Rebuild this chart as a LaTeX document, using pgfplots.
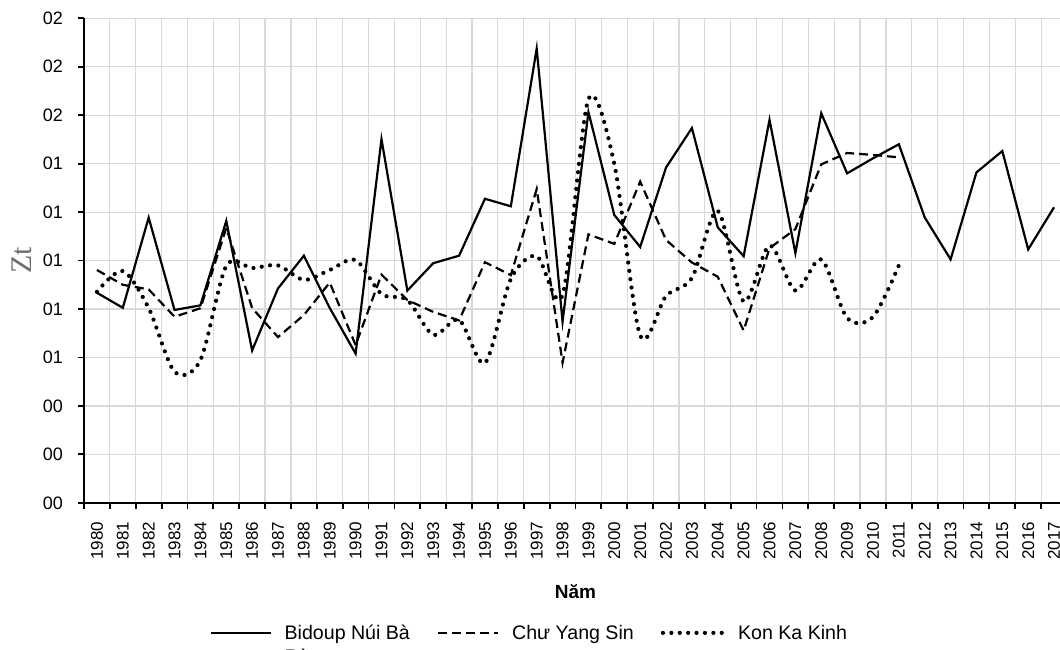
\documentclass[border=0pt]{standalone}
\usepackage{pgfplots}
\usepackage{pgfplotstable}
\pgfplotsset{compat=1.18}
\usepackage{fontspec}
\setmainfont{Liberation Sans}
\newfontfamily\seriffont{Liberation Serif}
\definecolor{gridgray}{RGB}{217,217,217}
\definecolor{labgray}{RGB}{110,110,110}

\pgfplotstableread{
year val
1980 0.0867
1981 0.0805
1982 0.1177
1983 0.0796
1984 0.0815
1985 0.1164
1986 0.0629
1987 0.0885
1988 0.1020
1989 0.0804
1990 0.0616
1991 0.1501
1992 0.0876
1993 0.0989
1994 0.1020
1995 0.1255
1996 0.1224
1997 0.1875
1998 0.0748
1999 0.1613
2000 0.1188
2001 0.1056
2002 0.1384
2003 0.1547
2004 0.1137
2005 0.1018
2006 0.1581
2007 0.1031
2008 0.1608
2009 0.1360
2010 0.1422
2011 0.1480
2012 0.1178
2013 0.1005
2014 0.1364
2015 0.1452
2016 0.1046
2017 0.1220
}\bidoup

\pgfplotstableread{
year val
1980 0.0961
1981 0.0900
1982 0.0881
1983 0.0768
1984 0.0803
1985 0.1134
1986 0.0804
1987 0.0684
1988 0.0775
1989 0.0909
1990 0.0651
1991 0.0942
1992 0.0837
1993 0.0788
1994 0.0753
1995 0.0993
1996 0.0940
1997 0.1295
1998 0.0578
1999 0.1108
2000 0.1069
2001 0.1326
2002 0.1085
2003 0.0992
2004 0.0933
2005 0.0711
2006 0.1051
2007 0.1130
2008 0.1397
2009 0.1444
2010 0.1436
2011 0.1426
}\chuyang

\pgfplotstableread{
year val
1980 0.0871
1981 0.0957
1982 0.0804
1983 0.0541
1984 0.0589
1985 0.0978
1986 0.0969
1987 0.0980
1988 0.0920
1989 0.0961
1990 0.1002
1991 0.0862
1992 0.0837
1993 0.0693
1994 0.0755
1995 0.0577
1996 0.0924
1997 0.1019
1998 0.0858
1999 0.1666
2000 0.1399
2001 0.0691
2002 0.0854
2003 0.0928
2004 0.1205
2005 0.0831
2006 0.1062
2007 0.0876
2008 0.1005
2009 0.0763
2010 0.0767
2011 0.0980
}\konka

\begin{document}
\begin{tikzpicture}
\path[use as bounding box, clip] (0,0) rectangle (530pt,324.5pt);
\begin{axis}[
  at={(42pt,73.1pt)}, anchor=south west,
  scale only axis, width=491.5pt, height=242.25pt,
  xmin=1979.5, xmax=2017.5, ymin=0, ymax=0.2,
  axis x line*=bottom, axis y line*=left,
  axis line style={black, line width=0.9pt},
  /pgf/number format/assume math mode=true,
  xtick={1979.5,1980.5,...,2017.5},
  x tick label as interval,
  xticklabels={1980,1981,1982,1983,1984,1985,1986,1987,1988,1989,1990,1991,1992,1993,1994,1995,1996,1997,1998,1999,2000,2001,2002,2003,2004,2005,2006,2007,2008,2009,2010,2011,2012,2013,2014,2015,2016,2017},
  xticklabel style={rotate=90, anchor=east, font=\fontsize{8.5}{10}\selectfont},
  xticklabel shift=3pt,
  ytick={0,0.02,0.04,0.06,0.08,0.1,0.12,0.14,0.16,0.18,0.2},
  yticklabels={00,00,00,01,01,01,01,01,02,02,02},
  yticklabel style={font=\fontsize{9}{10.5}\selectfont},
  yticklabel shift=4pt,
  tick align=outside, major tick length=3pt,
  tick style={black, line width=0.9pt},
  xmajorgrids, ymajorgrids,
  grid style={gridgray, line width=0.6pt},
  ylabel={\seriffont Zt},
  ylabel style={at={(axis description cs:-0.0636,0.5)}, anchor=center, font=\fontsize{15}{18}\selectfont, text=labgray},
  xlabel={Năm},
  xlabel style={at={(axis description cs:0.5,-0.184)}, anchor=center, font=\bfseries\fontsize{9.5}{11}\selectfont},
  legend columns=3,
  legend cell align=left,
  legend image code/.code={\draw[#1] (0pt,0pt) -- (30pt,0pt);},
  legend style={at={(axis description cs:0.1272,-0.2685)}, anchor=west, draw=none, fill=none, inner sep=0pt,
    font=\fontsize{9.8}{11.8}\selectfont,
    /tikz/every odd column/.append style={column sep=4.5pt},
    /tikz/every even column/.append style={column sep=11.5pt}},
]
\addplot[black, line width=1.1pt] table[x=year,y=val] {\bidoup};
\addlegendentry{\raisebox{0pt}[\ht\strutbox][\dp\strutbox]{\begin{tabular}[t]{@{}l@{}}Bidoup Núi Bà\\Rà\end{tabular}}}
\addplot[black, line width=1.1pt, dash pattern=on 4.5pt off 2.5pt] table[x=year,y=val] {\chuyang};
\addlegendentry{\strut Chư Yang Sin}
\addplot[black, line width=2.1pt, line cap=round, dash pattern=on 0pt off 4.2pt, smooth] table[x=year,y=val] {\konka};
\addlegendentry{\strut Kon Ka Kinh}
\end{axis}
\end{tikzpicture}
\end{document}
